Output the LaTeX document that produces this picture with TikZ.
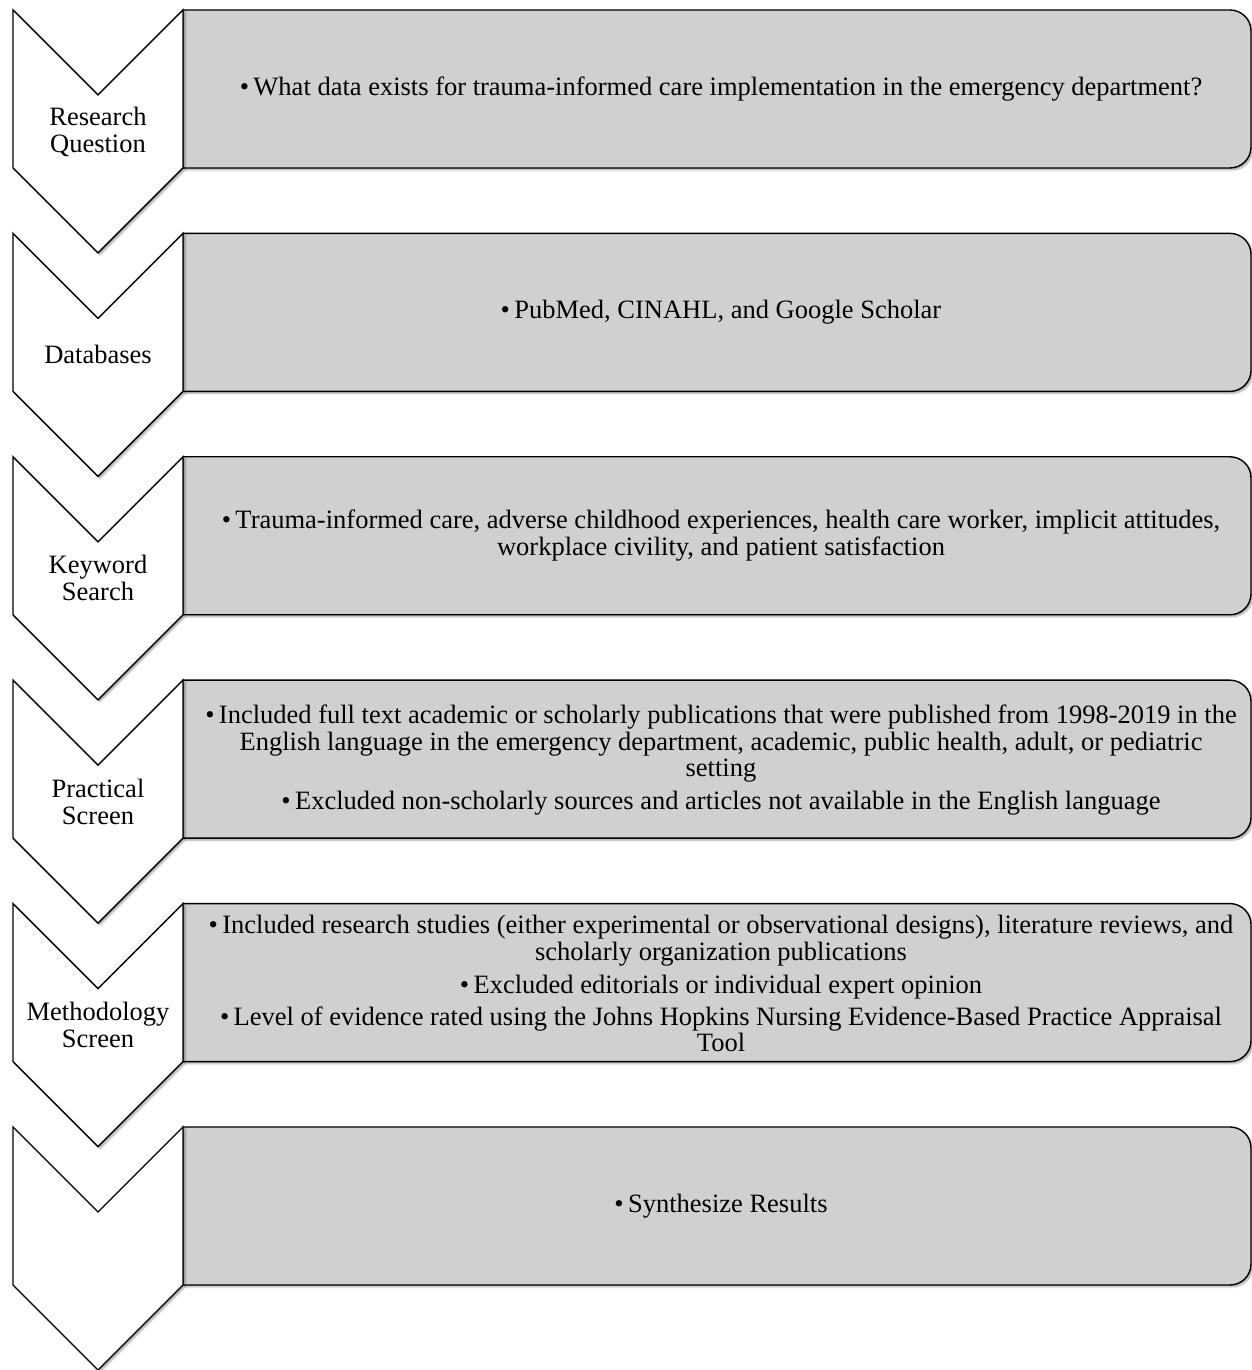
\documentclass[tikz,border=0pt]{standalone}
\usepackage{fontspec}
\setmainfont{Liberation Serif}
\usetikzlibrary{shadows.blur}
\definecolor{boxgray}{RGB}{208,208,208}
\newcommand\rowshapes[1]{%
  \draw[gbox] (183,#1) -- (1230,#1) arc[start angle=90,end angle=0,radius=21]
     -- (1251,#1-137) arc[start angle=0,end angle=-90,radius=21]
     -- (183,#1-158) -- cycle;
  \draw[chev] (13,#1) -- (98,#1-85) -- (183,#1) -- (183,#1-158)
     -- (98,#1-243) -- (13,#1-158) -- cycle;
}
\begin{document}
\begin{tikzpicture}[x=1pt,y=1pt,
  chev/.style={draw=black, line width=1.4pt, fill=white, line join=miter,
    blur shadow={shadow xshift=2pt, shadow yshift=-2pt, shadow blur steps=6, shadow opacity=35}},
  gbox/.style={draw=black, line width=1.4pt, fill=boxgray,
    blur shadow={shadow xshift=2pt, shadow yshift=-2pt, shadow blur steps=6, shadow opacity=35}},
  lbl/.style={font=\fontsize{26.5}{27}\selectfont, align=center, inner sep=0pt},
  txt/.style={font=\fontsize{26.5}{26.7}\selectfont, align=center, inner sep=0pt}]
\useasboundingbox (0,0) rectangle (1252,1370);
\rowshapes{1360}
\rowshapes{1136.6}
\rowshapes{913.2}
\rowshapes{689.8}
\rowshapes{466.4}
\rowshapes{243}

\node[lbl] (l1) at (98,1360-121.5) {Research\\Question};
\node[lbl] (l2) at (98,1136.6-121.5) {Databases};
\node[lbl] (l3) at (98,913.2-121.5) {Keyword\\Search};
\node[lbl] (l4) at (98,689.8-121.5) {Practical\\Screen};
\node[lbl] (l5) at (98,466.4-121.5) {Methodology\\Screen};

\node[txt] (t1) at (721,1360-79) {•\,What data exists for trauma-informed care implementation in the emergency department?};
\node[txt] (t2) at (721,1136.6-79) {•\,PubMed, CINAHL, and Google Scholar};
\node[txt] (t3) at (721,913.2-79) {•\,Trauma-informed care, adverse childhood experiences, health care worker, implicit attitudes,\\workplace civility, and patient satisfaction};
\node[txt] (t4) at (721,689.8-80) {•\,Included full text academic or scholarly publications that were published from 1998-2019 in the\\English language in the emergency department, academic, public health, adult, or pediatric\\setting\\[6.5pt]•\,Excluded non-scholarly sources and articles not available in the English language};
\node[txt] (t5) at (721,466.4-80) {•\,Included research studies (either experimental or observational designs), literature reviews, and\\scholarly organization publications\\[6.5pt]•\,Excluded editorials or individual expert opinion\\[5pt]•\,Level of evidence rated using the Johns Hopkins Nursing Evidence-Based Practice Appraisal\\Tool};
\node[txt] (t6) at (721,243-79) {•\,Synthesize Results};
\end{tikzpicture}
\end{document}
